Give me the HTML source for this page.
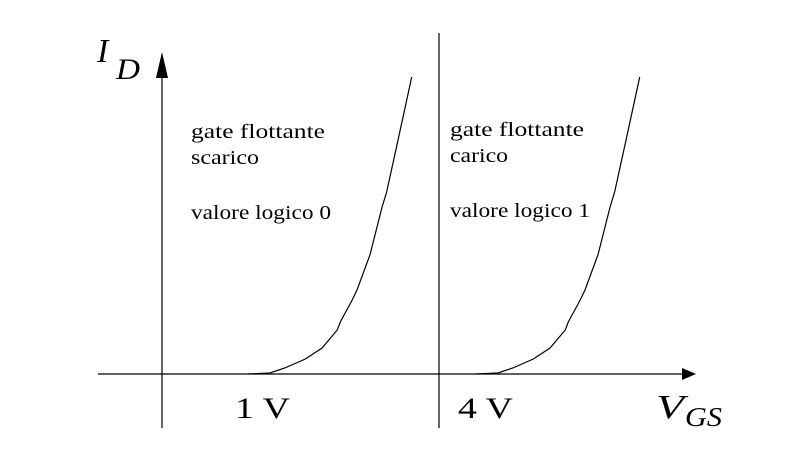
<!DOCTYPE html>
<html><head><meta charset="utf-8"><style>
html,body{margin:0;padding:0;background:#fff;}
svg{display:block;font-family:"Liberation Serif",serif;}
</style></head><body>
<svg id="chart" width="791" height="452" viewBox="0 0 791 452">
<line x1="98" y1="374" x2="684" y2="374" stroke="#000" stroke-width="1.2"/>
<polygon points="696,374 682,368 682,380" fill="#000"/>
<line x1="162" y1="428" x2="162" y2="70" stroke="#000" stroke-width="1.2"/>
<polygon points="162,52 156,78 168,78" fill="#000"/>
<line x1="439" y1="33" x2="439" y2="428" stroke="#000" stroke-width="1.2"/>
<text x="97" y="62" font-size="34" font-style="italic">I</text>
<text x="116" y="79" font-size="30" font-style="italic" textLength="24" lengthAdjust="spacingAndGlyphs">D</text>
<text x="656" y="418" font-size="34" font-style="italic" textLength="28" lengthAdjust="spacingAndGlyphs">V</text>
<text x="685" y="426" font-size="27" font-style="italic" textLength="37" lengthAdjust="spacingAndGlyphs">GS</text>
<text x="235" y="418" font-size="30" textLength="55" lengthAdjust="spacingAndGlyphs">1 V</text>
<text x="458" y="418" font-size="30" textLength="55" lengthAdjust="spacingAndGlyphs">4 V</text>
<g font-size="20">
<text x="191" y="138" textLength="134" lengthAdjust="spacingAndGlyphs">gate flottante</text><text x="191" y="164" textLength="68" lengthAdjust="spacingAndGlyphs">scarico</text><text x="191" y="219" textLength="140" lengthAdjust="spacingAndGlyphs">valore logico 0</text></g>
<g font-size="20">
<text x="450" y="136" textLength="134" lengthAdjust="spacingAndGlyphs">gate flottante</text><text x="450" y="162" textLength="58" lengthAdjust="spacingAndGlyphs">carico</text><text x="450" y="217" textLength="140" lengthAdjust="spacingAndGlyphs">valore logico 1</text></g>
<g id="curves"></g>
</svg>
<script>
const vgsUncharged=[0.82,1.105,1.30,1.57,1.79,1.99,2.03,2.18,2.25,2.42,2.58,2.64,2.79,2.97];
const vgsCharged=[3.82,4.105,4.30,4.57,4.79,4.99,5.03,5.18,5.25,5.42,5.58,5.64,5.79,5.97];
const idValues=[0,0.01,0.06,0.15,0.26,0.44,0.52,0.73,0.84,1.19,1.67,1.82,2.34,2.97];
function xs(v){return 186+v*76;}
function ys(i){return 374-i*100;}
const g=document.getElementById('curves');
function draw(vs,name){
  const p=document.createElementNS('http://www.w3.org/2000/svg','polyline');
  p.setAttribute('points',vs.map((v,k)=>xs(v)+','+ys(idValues[k])).join(' '));
  p.setAttribute('fill','none');p.setAttribute('stroke','#000');p.setAttribute('stroke-width','1.2');
  
  
  g.appendChild(p);
}
draw(vgsUncharged,'curve-uncharged');
draw(vgsCharged,'curve-charged');
</script>
</body></html>
